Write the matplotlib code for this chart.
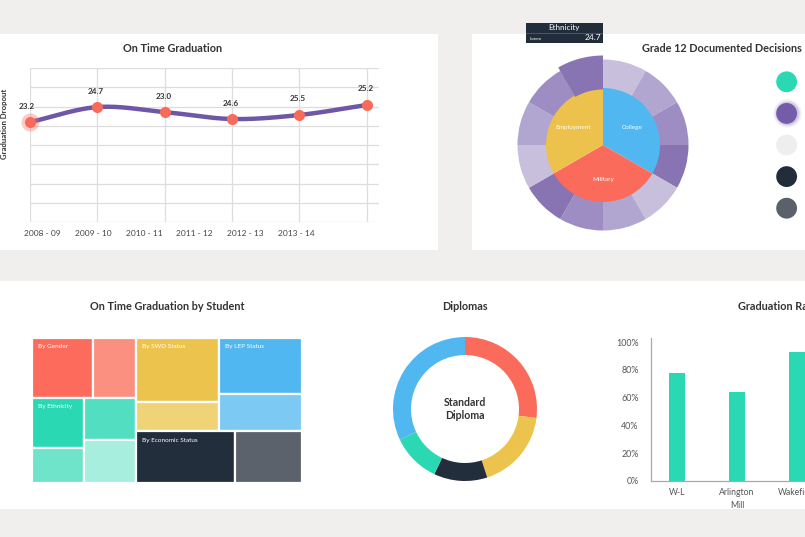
import numpy as np
import matplotlib
matplotlib.use('Agg')
import matplotlib.pyplot as plt
from matplotlib.patches import Rectangle, Wedge

plt.rcParams['font.family'] = ['Lato', 'DejaVu Sans']

# ---- data ----
years = ["2008 - 09", "2009 - 10", "2010 - 11", "2011 - 12", "2012 - 13", "2013 - 14"]
dropout_labels = ["23.2", "24.7", "23.0", "24.6", "25.5", "25.2"]
dropout_level = [5.19, 5.97, 5.71, 5.35, 5.56, 6.08]   # height of each point on the grid

decision_names = ["College", "Military", "Employment"]
decision_vals = [1, 1, 1]
ethnicity_vals = [1] * 12
ethnicity_colors = ["#c8bfdd", "#b1a6cf", "#9d8dc3", "#8874b3"] * 3
hover_index = 11
legend_colors = ["#2ad8b4", "#745ca8", "#efeeee", "#222d3b", "#5b616a"]

group_names = ["By Gender", "By Ethnicity", "By SWD Status", "By LEP Status", "By Economic Status"]
gender_vals = [9.0, 6.3]
ethnic_grp_vals = [[6.3, 4.5], [5.4, 5.5]]
swd_vals = [13.0, 5.9]
lep_vals = [11.2, 7.6]
econ_vals = [12.5, 8.4]
tree_colors = ["#fc6b5b", "#fb8f80",
               "#2ad8b4", "#6fe4cb", "#52dfc1", "#a7eedf",
               "#ecc44d", "#f1d377",
               "#51b7f0", "#7cc9f4",
               "#232e3c", "#5c626b"]

diploma_vals = [27, 18, 12, 11, 32]
diploma_colors = ["#fb6b5b", "#ecc44d", "#232e3c", "#2ad8b4", "#51b7f0"]

schools = ["W-L", "Arlington\nMill", "Wakefield"]
grad_rate = [78, 64, 93]

# ---- helpers (pixel layout of the dashboard) ----
W, H = 805, 537
DARK = "#333333"


def box(x0, y0, x1, y1):
    return [x0 / W, 1 - y1 / H, (x1 - x0) / W, (y1 - y0) / H]


def panel(fig, x0, y0, x1, y1, color="white"):
    r = Rectangle((x0 / W, 1 - y1 / H), (x1 - x0) / W, (y1 - y0) / H,
                  transform=fig.transFigure, facecolor=color, edgecolor="none", zorder=-10)
    fig.add_artist(r)


def ftext(fig, x, y, s, **kw):
    fig.text(x / W, 1 - y / H, s, **kw)


def catmull(xs, ys, n=40):
    pts = np.column_stack([xs, ys]).astype(float)
    ext = np.vstack([2 * pts[0] - pts[1], pts, 2 * pts[-1] - pts[-2]])
    t = np.linspace(0, 1, n)[:, None]
    out = []
    for i in range(len(pts) - 1):
        p0, p1, p2, p3 = ext[i:i + 4]
        out.append(0.5 * (2 * p1 + (-p0 + p2) * t + (2 * p0 - 5 * p1 + 4 * p2 - p3) * t ** 2
                          + (-p0 + 3 * p1 - 3 * p2 + p3) * t ** 3))
    return np.vstack(out)


def total(node):
    if isinstance(node, (int, float)):
        return node
    return sum(total(c) for c in node)


def layout(node, x, y, w, h, depth, out):
    if isinstance(node, (int, float)):
        out.append((x, y, w, h))
        return
    tot = total(node)
    off = 0
    for c in node:
        f = total(c) / tot
        if depth % 2 == 0:
            layout(c, x + off * w, y, w * f, h, depth + 1, out)
        else:
            layout(c, x, y + off * h, w, h * f, depth + 1, out)
        off += f


fig = plt.figure(figsize=(8.05, 5.37), dpi=100)
fig.patch.set_facecolor("#f0efed")

panel(fig, 0, 34, 438, 250)
panel(fig, 472, 34, 805, 250)
panel(fig, 0, 281, 805, 509)

# ---- On Time Graduation (line) ----
ax = fig.add_axes(box(30, 68, 379, 222))
ax.set_xlim(0, 5.18)
ax.set_ylim(0, 8)
for s in ax.spines.values():
    s.set_visible(False)
for yv in range(0, 9):
    ax.axhline(yv, color="#dddddd", lw=0.9, zorder=0)
x = np.arange(len(years))
for xv in x:
    ax.axvline(xv, color="#dddddd", lw=0.9, zorder=0)
curve = catmull(x, dropout_level)
ax.plot(curve[:, 0], curve[:, 1], color="#6e57a6", lw=3.2, solid_capstyle="round", zorder=2, clip_on=False)
ax.plot(x[0], dropout_level[0], "o", ms=13, color="#fa6a5a", alpha=0.35, mec="none", zorder=3, clip_on=False)
ax.plot(x, dropout_level, "o", ms=8, color="#fa6a5a", mec="none", zorder=4, clip_on=False)
for xi, yi, lab in zip(x, dropout_level, dropout_labels):
    ax.annotate(lab, (xi, yi), xytext=(-2 if xi == 0 else -1, 9), textcoords="offset points",
                ha="center", va="bottom", fontsize=5.9, fontweight="bold", color=DARK)
ax.set_yticks([])
ax.set_xticks(0.19 + 0.752 * np.arange(len(years)))
ax.set_xticklabels(years, fontsize=6, color="#444444")
ax.tick_params(axis="x", length=0, pad=6)
ax.patch.set_alpha(0)
ftext(fig, 173, 49, "On Time Graduation", ha="center", va="center", fontsize=7.8,
      fontweight="bold", color=DARK)
ftext(fig, 5, 124, "Graduation Dropout", ha="center", va="center", rotation=90,
      fontsize=5.6, fontweight="bold", color=DARK)

# ---- Grade 12 Documented Decisions (sunburst) ----
ax2 = fig.add_axes(box(503, 45, 703, 245))
ax2.axis("off")
wedges, _ = ax2.pie(ethnicity_vals, radius=0.855, startangle=90, counterclock=False,
                    colors=ethnicity_colors, wedgeprops=dict(width=0.3, linewidth=0))
hw = wedges[hover_index]
ax2.add_patch(Wedge((0, 0), 0.895, hw.theta1, hw.theta2, width=0.34,
                    facecolor=ethnicity_colors[hover_index], linewidth=0, zorder=3))
ax2.pie(decision_vals, radius=0.57, startangle=90, counterclock=False,
        colors=["#50b7f0", "#fb6b5b", "#ecc24c"], labels=decision_names, labeldistance=0.6,
        wedgeprops=dict(linewidth=0), textprops=dict(color="white", fontsize=4.6, ha="center"))
ax2.set_xlim(-1, 1)
ax2.set_ylim(-1, 1)
ax2.set_aspect("equal")
ftext(fig, 722, 49, "Grade 12 Documented Decisions", ha="center", va="center", fontsize=7.8,
      fontweight="bold", color=DARK)

# tooltip
fig.add_artist(Rectangle((526 / W, 1 - 43 / H), 77 / W, 20 / H, transform=fig.transFigure,
                         facecolor="#222d3b", edgecolor="none", zorder=5))
fig.add_artist(Rectangle((526 / W, 1 - 33.5 / H), 77 / W, 0.8 / H, transform=fig.transFigure,
                         facecolor="#4a5566", edgecolor="none", zorder=6))
ftext(fig, 564, 28, "Ethnicity", ha="center", va="center", fontsize=5.8, color="white", zorder=7)
ftext(fig, 530, 38.5, "Lorem", ha="left", va="center", fontsize=3.2, color="white", zorder=7)
ftext(fig, 601, 38, dropout_labels[1], ha="right", va="center", fontsize=6, color="white", zorder=7)

# legend dots
ax3 = fig.add_axes(box(770, 66, 805, 224))
ax3.set_xlim(-1, 1)
ax3.set_ylim(len(legend_colors) - 0.5, -0.5)
ax3.axis("off")
ly = np.arange(len(legend_colors))
for sz, al in [(420, 0.08), (340, 0.12), (280, 0.18)]:
    ax3.scatter([-0.05], [ly[1]], s=sz, color=legend_colors[1], alpha=al, linewidths=0, clip_on=False)
ax3.scatter(np.full(len(ly), -0.05), ly, s=225, c=legend_colors, linewidths=0, clip_on=False, zorder=3)

# ---- On Time Graduation by Student (treemap) ----
ax4 = fig.add_axes(box(32, 338, 302, 483))
ax4.set_xlim(0, 1)
ax4.set_ylim(1, 0)
ax4.axis("off")
tree = [[gender_vals, ethnic_grp_vals], [[swd_vals, lep_vals], econ_vals]]
rects = []
layout(tree, 0, 0, 1, 1, 0, rects)
for (rx, ry, rw, rh), c in zip(rects, tree_colors):
    ax4.add_patch(Rectangle((rx, ry), rw, rh, facecolor=c, edgecolor="white", lw=1.6))
first_leaf = [0, 2, 6, 8, 10]
for name, i in zip(group_names, first_leaf):
    rx, ry, rw, rh = rects[i]
    ax4.text(rx + 0.022, ry + 0.062, name, color="white", fontsize=4.6, va="center", ha="left")
ftext(fig, 167, 306, "On Time Graduation by Student", ha="center", va="center", fontsize=7.8,
      fontweight="bold", color=DARK)

# ---- Diplomas (donut) ----
ax5 = fig.add_axes(box(365, 309, 565, 509))
ax5.axis("off")
ax5.pie(diploma_vals, radius=0.72, startangle=90, counterclock=False, colors=diploma_colors,
        wedgeprops=dict(width=0.18, linewidth=0))
ax5.set_xlim(-1, 1)
ax5.set_ylim(-1, 1)
ax5.set_aspect("equal")
ax5.text(0, 0, "Standard\nDiploma", ha="center", va="center", fontsize=7.6, fontweight="bold",
         color=DARK, linespacing=1.3)
ftext(fig, 465, 306, "Diplomas", ha="center", va="center", fontsize=7.8, fontweight="bold", color=DARK)

# ---- Graduation Rate (bars) ----
ax6 = fig.add_axes(box(651, 338, 851, 481))
ax6.set_xlim(-0.43, 2.9)
ax6.set_ylim(0, 103)
ax6.bar(np.arange(len(schools)), grad_rate, width=0.27, color="#2ad8b4")
ax6.set_yticks([0, 20, 40, 60, 80, 100])
ax6.set_yticklabels(["0%", "20%", "40%", "60%", "80%", "100%"], fontsize=6.4, color="#555555")
ax6.set_xticks(np.arange(len(schools)))
ax6.set_xticklabels(schools, fontsize=6.2, color="#555555", linespacing=1.6)
ax6.tick_params(length=0)
ax6.tick_params(axis="y", pad=9)
ax6.tick_params(axis="x", pad=5)
for s in ["top", "right"]:
    ax6.spines[s].set_visible(False)
for s in ["left", "bottom"]:
    ax6.spines[s].set_color("#aaaaaa")
    ax6.spines[s].set_linewidth(0.9)
ftext(fig, 738, 306, "Graduation Rate", ha="left", va="center", fontsize=7.8, fontweight="bold", color=DARK)

fig.savefig("out.png", dpi=100, facecolor=fig.get_facecolor())
